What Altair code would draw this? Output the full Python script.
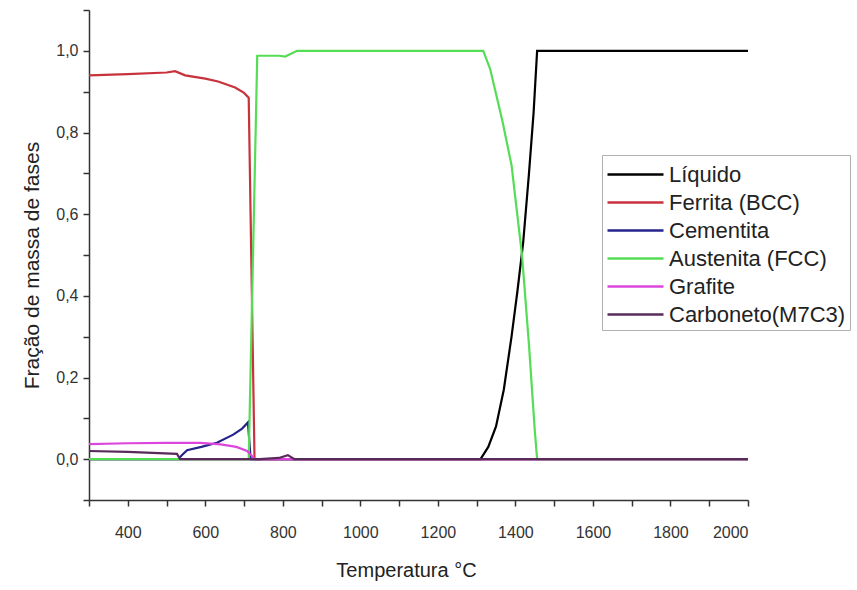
import altair as alt
import pandas as pd

SERIES = ["Líquido", "Ferrita (BCC)", "Cementita", "Austenita (FCC)", "Grafite", "Carboneto(M7C3)"]
COLORS = ["#000000", "#c8323c", "#24248c", "#55dd55", "#dc46dc", "#5a2a5a"]

T_LIQ = [300, 1310, 1330, 1350, 1370, 1390, 1405, 1420, 1435, 1447, 1456, 2000]
V_LIQ = [0, 0, 0.03, 0.08, 0.17, 0.30, 0.41, 0.53, 0.70, 0.85, 1.0, 1.0]

T_FER = [300, 400, 500, 522, 548, 600, 633, 677, 700, 712, 727, 2000]
V_FER = [0.940, 0.943, 0.947, 0.950, 0.940, 0.932, 0.925, 0.910, 0.897, 0.885, 0, 0]

T_CEM = [300, 530, 540, 553, 590, 630, 672, 695, 710, 717, 2000]
V_CEM = [0, 0, 0.010, 0.022, 0.030, 0.040, 0.060, 0.075, 0.090, 0, 0]

T_AUS = [300, 712, 734, 790, 806, 837, 1000, 1317, 1335, 1366, 1390, 1417, 1435, 1450, 1456, 2000]
V_AUS = [0, 0, 0.988, 0.988, 0.986, 1.0, 1.0, 1.0, 0.955, 0.83, 0.72, 0.50, 0.28, 0.07, 0, 0]

T_GRA = [300, 400, 500, 586, 640, 680, 708, 728, 2000]
V_GRA = [0.037, 0.039, 0.040, 0.040, 0.036, 0.030, 0.020, 0, 0]

T_CAR = [300, 400, 527, 535, 740, 790, 813, 830, 2000]
V_CAR = [0.020, 0.018, 0.013, 0, 0, 0.003, 0.010, 0, 0]

X_TICKS = list(range(300, 2001, 100))
Y_TICKS = [-0.1, 0.0, 0.1, 0.2, 0.3, 0.4, 0.5, 0.6, 0.7, 0.8, 0.9, 1.0, 1.1]

rows = []
for name, ts, vs in zip(SERIES,
                        [T_LIQ, T_FER, T_CEM, T_AUS, T_GRA, T_CAR],
                        [V_LIQ, V_FER, V_CEM, V_AUS, V_GRA, V_CAR]):
    for t, v in zip(ts, vs):
        rows.append({"fase": name, "T": t, "v": v})
df = pd.DataFrame(rows)

FONT = "Liberation Sans"

chart = alt.Chart(df).mark_line(strokeWidth=2.2).encode(
    x=alt.X("T:Q",
            scale=alt.Scale(domain=[300, 2000], nice=False, zero=False),
            axis=alt.Axis(values=X_TICKS,
                          labelExpr="datum.value % 200 == 0 ? datum.value : ''",
                          labelPadding=18,
                          title="Temperatura °C", grid=False, titlePadding=20,
                          titleX=317)),
    y=alt.Y("v:Q",
            scale=alt.Scale(domain=[-0.1, 1.1], nice=False, zero=False),
            axis=alt.Axis(values=Y_TICKS,
                          labelExpr="(round(datum.value*10) % 2 == 0 && datum.value > -0.05) ? replace(format(datum.value, '.1f'), '.', ',') : ''",
                          title="Fração de massa de fases", grid=False, titlePadding=13,
                          titleFontSize=21, titleY=255)),
    color=alt.Color("fase:N",
                    scale=alt.Scale(domain=SERIES, range=COLORS),
                    sort=SERIES,
                    legend=alt.Legend(title=None, orient="none", legendX=513, legendY=145,
                                      strokeColor="#b0b0b0", fillColor="white", padding=4,
                                      symbolType="M-1,0L3,0", symbolSize=784,
                                      symbolStrokeWidth=2.5, labelFontSize=22,
                                      labelOffset=32, rowPadding=1, labelLimit=0,
                                      labelFont=FONT, labelColor="#222")),
    order=alt.Order("T:Q"),
).properties(
    width=659, height=490,
    padding={"left": 89, "top": 10, "right": 109, "bottom": 90},
    autosize="none",
    background="white",
).configure_view(stroke=None).configure_axis(
    domainColor="#333", domainWidth=1.5, tickColor="#333", tickWidth=1.5, tickSize=6,
    labelFont=FONT, labelFontSize=16, labelColor="#333", labelPadding=5,
    titleFont=FONT, titleFontSize=20, titleFontWeight="normal", titleColor="#222",
)

chart.save("out.html", embed_options={"renderer": "svg", "actions": False})
